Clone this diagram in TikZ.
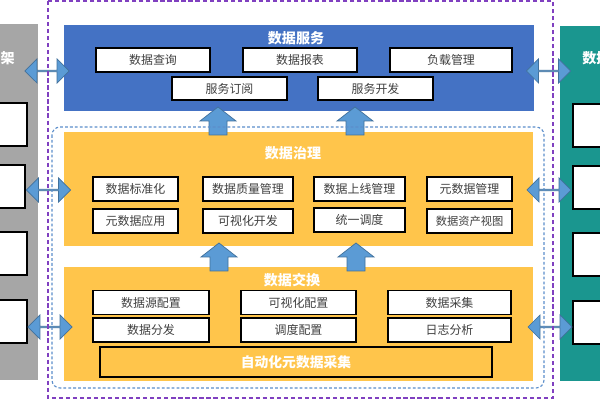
\documentclass[tikz,border=0pt]{standalone}
\usepackage{fontspec}
\newfontfamily\cjk{Noto Sans CJK SC}
\usetikzlibrary{shapes.arrows}

\definecolor{svcblue}{HTML}{4472C4}
\definecolor{govyellow}{HTML}{FFC54B}
\definecolor{arrowblue}{HTML}{5B9BD5}
\definecolor{arrowline}{HTML}{41719C}
\definecolor{panelgrey}{HTML}{A6A6A6}
\definecolor{panelteal}{HTML}{1A968F}
\definecolor{dashpurple}{HTML}{8040C0}
\definecolor{dashblue}{HTML}{5B8ECB}
\definecolor{boxtext}{HTML}{404040}

\tikzset{
  cell/.style={draw=black, line width=0.9pt, fill=white, text=boxtext, inner sep=0pt,
    minimum height=0.6cm, font=\cjk\fontsize{8.5}{10}\selectfont},
  sidebox/.style={draw=black, line width=0.9pt, fill=white},
  layertitle/.style={text=white, inner sep=0pt, font=\cjk\bfseries\fontsize{10}{12}\selectfont},
  dblarrow/.style={double arrow, fill=arrowblue, draw=arrowline, line width=0.5pt, inner sep=0pt,
    minimum height=1.1cm, minimum width=0.6cm, double arrow head extend=0.15cm},
  liftstyle/.style={fill=arrowblue, draw=arrowline, line width=0.5pt, line join=miter}
}

% block arrow pointing up: name, x, y of head base
\newcommand{\liftarrow}[3]{%
  \coordinate (#1) at (#2,#3);
  \draw[liftstyle] (#2-9,#3+14) -- (#2-9,#3) -- (#2-18,#3) -- (#2,#3-14)
    -- (#2+18,#3) -- (#2+9,#3) -- (#2+9,#3+14) -- cycle;}

\begin{document}
\begin{tikzpicture}[x=0.025cm, y=-0.025cm]
\useasboundingbox[fill=white] (0,0) rectangle (600,400);

% side panels
\fill[panelgrey] (-5,24) rectangle (38,380);
\node[layertitle, anchor=east] (lefttitle) at (15,58) {架};
\draw[sidebox] (-5,103) rectangle (27,146);
\draw[sidebox] (-5,165) rectangle (25,208);
\draw[sidebox] (-5,232) rectangle (27,275);
\draw[sidebox] (-5,300) rectangle (27,343);

\fill[panelteal] (560,26) rectangle (605,381);
\node[layertitle, anchor=west] (righttitle) at (582,58) {数据};
\draw[sidebox] (573,104) rectangle (605,147);
\draw[sidebox] (573,166) rectangle (605,209);
\draw[sidebox] (573,233) rectangle (605,276);
\draw[sidebox] (573,301) rectangle (605,344);

% data service layer
\node[fill=svcblue, minimum width=11.75cm, minimum height=2.15cm] (svc) at (299,68) {};
\node[layertitle] (svctitle) at (296,38) {数据服务};
\node[cell, minimum width=2.85cm] (query) at (153,60) {数据查询};
\node[cell, minimum width=2.85cm] (report) at (300,60) {数据报表};
\node[cell, minimum width=3.05cm] (load) at (451,60) {负载管理};
\node[cell, minimum width=2.875cm, minimum height=0.575cm] (subscr) at (229.5,88.5) {服务订阅};
\node[cell, minimum width=2.875cm, minimum height=0.575cm] (devel) at (375.5,88.5) {服务开发};

% data governance layer
\node[fill=govyellow, minimum width=11.725cm, minimum height=2.85cm] (gov) at (298.5,189) {};
\node[layertitle] (govtitle) at (293,153) {数据治理};
\node[cell, minimum width=2.125cm] (std) at (135.5,189) {数据标准化};
\node[cell, minimum width=2.25cm] (quality) at (248,189) {数据质量管理};
\node[cell, minimum width=2.275cm] (online) at (359.5,189) {数据上线管理};
\node[cell, minimum width=2.125cm] (meta) at (469.5,189) {元数据管理};
\node[cell, minimum width=2.125cm] (metaapp) at (135.5,221) {元数据应用};
\node[cell, minimum width=2.25cm] (visdev) at (248,221) {可视化开发};
\node[cell, minimum width=2.275cm] (sched) at (359.5,220) {统一调度};
\node[cell, minimum width=2.125cm, font=\cjk\fontsize{8}{10}\selectfont] (asset) at (469.5,221) {数据资产视图};

% data exchange layer
\node[fill=govyellow, minimum width=11.725cm, minimum height=2.85cm] (exc) at (298.5,324) {};
\node[layertitle] (exctitle) at (292,280) {数据交换};
\node[cell, minimum width=2.9cm, minimum height=0.585cm] (source) at (151,302.5) {数据源配置};
\node[cell, minimum width=2.875cm, minimum height=0.585cm] (visconf) at (298.5,302.5) {可视化配置};
\node[cell, minimum width=3.075cm, minimum height=0.585cm] (collect) at (449.5,302.5) {数据采集};
\node[cell, minimum width=2.9cm] (dist) at (151,330) {数据分发};
\node[cell, minimum width=2.875cm] (schedconf) at (298.5,330) {调度配置};
\node[cell, minimum width=3.075cm] (logs) at (449.5,330) {日志分析};
\node[draw=black, line width=1.5pt, fill=govyellow, minimum width=9.8cm, minimum height=0.75cm,
  text=white, font=\cjk\bfseries\fontsize{9.8}{12}\selectfont] (autometa) at (296,362) {自动化元数据采集};

% arrows between layers
\liftarrow{up1}{218}{121}
\liftarrow{up2}{355}{121}
\liftarrow{up3}{219}{257}
\liftarrow{up4}{356}{257}

% arrows to the side panels
\node[dblarrow] (lsvc) at (47,71) {};
\node[dblarrow] (lgov) at (48.5,190) {};
\node[dblarrow] (lexc) at (50,327) {};
\node[dblarrow] (rsvc) at (548.5,71) {};
\node[dblarrow] (rgov) at (549,190) {};
\node[dblarrow] (rexc) at (550,327) {};

% dashed frames
\draw[dashblue, line width=0.8pt, dash pattern=on 2pt off 1.5pt, rounded corners=0.2cm] (52,127) rectangle (544,388);
\draw[dashpurple, line width=1pt, dash pattern=on 3pt off 2pt] (48,1) rectangle (553,398);
\end{tikzpicture}
\end{document}
